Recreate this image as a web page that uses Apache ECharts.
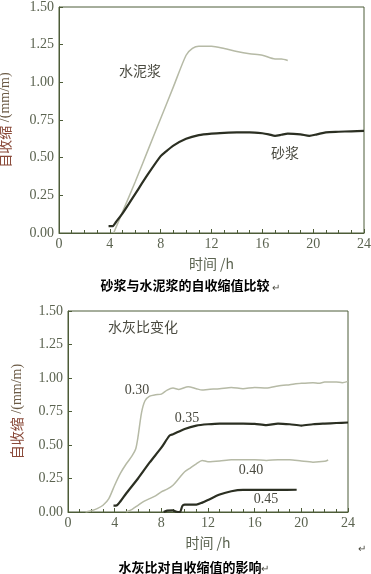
<!DOCTYPE html>
<html lang="zh">
<head>
    <meta charset="UTF-8" />
    <title>自收缩值比较</title>
    <script src="https://cdn.jsdelivr.net/npm/echarts@6/dist/echarts.min.js"></script>
    <style>
        html, body { margin: 0; padding: 0; background: #fff; }
        #main { width: 371px; height: 574px; }
    </style>
</head>
<body>
<div id="main"></div>
<script type="text/javascript">
    // 上图：砂浆与水泥浆 (时间 h, 自收缩 mm/m)
    var cementPaste = [
        [4.3, 0], [5, 0.14], [6, 0.34], [7, 0.55], [8, 0.76], [9, 0.97], [10, 1.18],
        [10.5, 1.225], [11, 1.24], [12, 1.24], [13, 1.225], [14, 1.205], [15, 1.19],
        [16, 1.18], [17, 1.155], [17.5, 1.155], [18, 1.145]
    ];
    var mortar = [
        [3.9, 0.045], [4.2, 0.045], [4.5, 0.075], [5, 0.13], [6, 0.26], [7, 0.39],
        [8, 0.51], [8.4, 0.54], [9, 0.58], [10, 0.625], [11, 0.65], [12, 0.66],
        [13, 0.665], [14, 0.668], [15, 0.668], [16, 0.662], [16.5, 0.655], [17, 0.645],
        [17.5, 0.652], [18, 0.66], [19, 0.655], [19.7, 0.645], [20.3, 0.655],
        [21, 0.668], [22, 0.672], [23, 0.675], [24, 0.678]
    ];

    // 下图：水灰比变化
    var wc030 = [
        [1.5, 0], [2, 0.01], [2.5, 0.025], [3, 0.05], [3.5, 0.1], [4, 0.2], [4.5, 0.29],
        [5, 0.36], [5.5, 0.42], [5.8, 0.47], [6, 0.56], [6.3, 0.74], [6.6, 0.83],
        [7, 0.865], [7.5, 0.875], [8, 0.88], [8.5, 0.91], [9, 0.925], [9.5, 0.915],
        [10.3, 0.935], [11, 0.92], [11.5, 0.91], [12, 0.915], [13, 0.92], [14, 0.93],
        [15, 0.92], [16, 0.93], [17, 0.925], [18, 0.94], [19, 0.95], [20, 0.96],
        [21, 0.965], [21.5, 0.96], [22, 0.97], [23, 0.97], [23.5, 0.965], [24, 0.975]
    ];
    var wc035 = [
        [3.9, 0.047], [4.2, 0.05], [4.5, 0.08], [5, 0.14], [6, 0.25], [7, 0.37],
        [8, 0.48], [8.7, 0.57], [9, 0.58], [10, 0.62], [11, 0.645], [12, 0.655],
        [13, 0.66], [14, 0.66], [15, 0.66], [16, 0.658], [17, 0.648], [18, 0.66],
        [19, 0.655], [20, 0.645], [21, 0.655], [22, 0.66], [23, 0.664], [24, 0.668]
    ];
    var wc040 = [
        [5, 0], [5.5, 0.02], [6, 0.05], [6.5, 0.08], [7, 0.1], [7.5, 0.12], [8, 0.15],
        [8.5, 0.17], [9, 0.2], [9.5, 0.25], [10, 0.3], [10.5, 0.33], [11, 0.36],
        [11.5, 0.385], [12, 0.375], [13, 0.38], [14, 0.39], [15, 0.39], [16, 0.39],
        [17, 0.385], [18, 0.39], [19, 0.39], [20, 0.38], [21, 0.372], [22, 0.378],
        [22.3, 0.388]
    ];
    var wc045 = [
        [8.2, 0], [8.5, 0.01], [9, 0.012], [9.3, 0.002], [9.6, 0], [9.8, 0.045],
        [10, 0.055], [11, 0.055], [11.5, 0.07], [12, 0.09], [13, 0.13], [14, 0.155],
        [15, 0.165], [16, 0.165], [18, 0.165], [19.6, 0.166]
    ];

    var xTicks = [0, 4, 8, 12, 16, 20, 24];
    var yTicks = [0, 0.25, 0.5, 0.75, 1.0, 1.25, 1.5];

    var axisColor = '#4d5c38';
    var labelColor = '#5b6350';
    var lightLine = '#b6baa6';
    var darkLine = '#2b2f22';
    var serif = 'Liberation Serif';
    var cjk = 'Noto Sans CJK SC';

    function xAxisOpt(grid) {
        return {
            type: 'value', gridIndex: grid,
            min: xTicks[0], max: xTicks[xTicks.length - 1], interval: 4,
            name: '时间 /h', nameLocation: 'middle', nameGap: 24,
            nameTextStyle: { color: labelColor, fontFamily: cjk, fontSize: 14 },
            axisLine: { show: true, lineStyle: { color: axisColor, width: 1 } },
            axisTick: { show: true, inside: true, length: 4, lineStyle: { color: axisColor } },
            minorTick: { show: true, splitNumber: 4, length: 3, lineStyle: { color: axisColor } },
            axisLabel: { color: labelColor, fontFamily: serif, fontSize: 14, margin: 4 },
            splitLine: { show: false }
        };
    }

    function yAxisOpt(grid, gap) {
        return {
            type: 'value', gridIndex: grid,
            min: yTicks[0], max: yTicks[yTicks.length - 1], interval: 0.25,
            name: '{a|自收缩} /(mm/m)', nameLocation: 'middle', nameGap: gap, nameRotate: 90,
            nameTextStyle: {
                color: '#6b5a45', fontFamily: serif, fontSize: 14,
                rich: { a: { color: '#8a4a3a', fontFamily: cjk, fontSize: 14 } }
            },
            axisLine: { show: true, lineStyle: { color: axisColor, width: 1 } },
            axisTick: { show: true, inside: true, length: 4, lineStyle: { color: axisColor } },
            axisLabel: {
                color: labelColor, fontFamily: serif, fontSize: 14, margin: 5,
                formatter: function (v) { return v.toFixed(2); }
            },
            splitLine: { show: false }
        };
    }

    function line(name, data, color, width, idx) {
        return {
            name: name, type: 'line', xAxisIndex: idx, yAxisIndex: idx,
            data: data, showSymbol: false, smooth: 0.25,
            lineStyle: { color: color, width: width }
        };
    }

    function txt(x, y, s, size) {
        return {
            type: 'text', x: x, y: y,
            style: {
                text: s, fill: '#4a4a40', font: (size || 14) + 'px ' + (/^[0-9.]+$/.test(s) ? serif : cjk),
                textAlign: 'center', textVerticalAlign: 'middle'
            }
        };
    }

    var gridBase = {
        show: true, borderColor: axisColor, borderWidth: 1,
        backgroundColor: 'transparent', containLabel: false, outerBoundsMode: 'none'
    };

    var chart = echarts.init(document.getElementById('main'), null, { renderer: 'canvas' });
    chart.setOption({
        backgroundColor: '#fff',
        animation: false,
        grid: [
            Object.assign({ left: 59, top: 7, width: 305, height: 226 }, gridBase),
            Object.assign({ left: 68, top: 311, width: 280, height: 201 }, gridBase)
        ],
        xAxis: [xAxisOpt(0), xAxisOpt(1)],
        yAxis: [yAxisOpt(0, 47), yAxisOpt(1, 44)],
        series: [
            line('水泥浆', cementPaste, lightLine, 1.5, 0),
            line('砂浆', mortar, darkLine, 2.2, 0),
            line('0.30', wc030, lightLine, 1.5, 1),
            line('0.35', wc035, darkLine, 2.2, 1),
            line('0.40', wc040, lightLine, 1.5, 1),
            line('0.45', wc045, darkLine, 2.2, 1)
        ],
        graphic: [
            txt(140, 71, '水泥浆'),
            txt(285, 153, '砂浆'),
            txt(143, 327, '水灰比变化'),
            txt(137, 390, '0.30'),
            txt(187, 418, '0.35'),
            txt(251, 470, '0.40'),
            txt(266, 499, '0.45'),
            {
                type: 'text', x: 185, y: 285,
                style: {
                    text: '砂浆与水泥浆的自收缩值比较', fill: '#000',
                    font: 'bold 13px "Noto Sans CJK SC"', textAlign: 'center', textVerticalAlign: 'middle'
                }
            },
            txt(276, 287, '↵', 10),
            {
                type: 'text', x: 190, y: 567,
                style: {
                    text: '水灰比对自收缩值的影响', fill: '#000',
                    font: 'bold 13px "Noto Sans CJK SC"', textAlign: 'center', textVerticalAlign: 'middle'
                }
            },
            txt(265, 568, '↵', 10),
            txt(362, 548, '↵', 10)
        ]
    });
</script>
</body>
</html>
